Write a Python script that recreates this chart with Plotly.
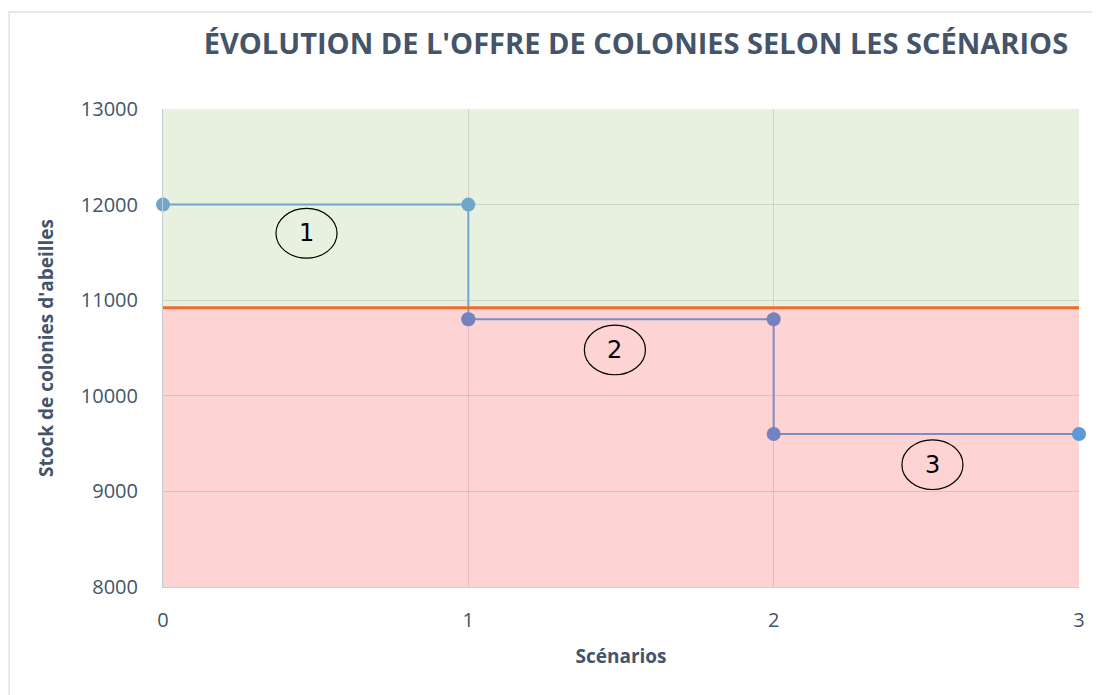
import plotly.graph_objects as go

# scenario steps (two overlapping series as in the original chart)
x_a = [0, 1, 1]
y_a = [12000, 12000, 10800]
x_b = [1, 2, 2, 3]
y_b = [10800, 10800, 9600, 9600]

# threshold separating the green and red zones
seuil = 10920
y_min, y_max = 8000, 13000
x_min, x_max = 0, 3
y_ticks = [8000, 9000, 10000, 11000, 12000, 13000]

# circled scenario labels
label_text = ["1", "2", "3"]
label_x = [0.47, 1.48, 2.52]
label_y = [11700, 10480, 9280]

TXT = "#44546a"
FONT = "Open Sans"

fig = go.Figure()

fig.add_trace(go.Scatter(
    x=x_a, y=y_a, mode="lines+markers",
    line=dict(color="#6fa6cc", width=2),
    marker=dict(color="#6fa6cc", size=14),
    cliponaxis=False, showlegend=False,
))
fig.add_trace(go.Scatter(
    x=x_b, y=y_b, mode="lines+markers",
    line=dict(color="#7f8cc0", width=2),
    marker=dict(color=["#7483bd", "#7483bd", "#7483bd", "#5b9bd5"], size=14),
    cliponaxis=False, showlegend=False,
))

# zones
fig.add_shape(type="rect", xref="x", yref="y", x0=x_min, x1=x_max,
              y0=seuil + 12, y1=y_max, fillcolor="#e8f0e0", line_width=0,
              layer="below")
fig.add_shape(type="rect", xref="x", yref="y", x0=x_min, x1=x_max,
              y0=y_min, y1=seuil - 12, fillcolor="#fdd3d3", line_width=0,
              layer="below")
fig.add_shape(type="line", xref="x", yref="y", x0=x_min, x1=x_max,
              y0=seuil, y1=seuil, line=dict(color="#f26a2c", width=3))

# circled numbers
for t, lx, ly in zip(label_text, label_x, label_y):
    fig.add_shape(type="circle", xref="x", yref="y",
                  x0=lx - 0.1, x1=lx + 0.1, y0=ly - 260, y1=ly + 260,
                  line=dict(color="black", width=1.2))
    fig.add_annotation(x=lx, y=ly, text=t, showarrow=False,
                       font=dict(family="DejaVu Sans", size=24, color="black"))

# outer frame
fig.add_shape(type="rect", xref="paper", yref="paper",
              x0=-0.168, x1=1.04, y0=-0.26, y1=1.203,
              line=dict(color="#dde2ea", width=1.5))

fig.update_layout(
    width=1092, height=687,
    margin=dict(l=155, r=21, t=101, b=108),
    paper_bgcolor="white", plot_bgcolor="white",
    font=dict(family=FONT, color=TXT),
    title=dict(text="<b>ÉVOLUTION DE L'OFFRE DE COLONIES SELON LES SCÉNARIOS</b>",
               x=0.575, xanchor="center", y=0.948, yanchor="middle",
               font=dict(family=FONT, size=29, color=TXT)),
    xaxis=dict(
        range=[x_min, x_max], tickvals=[0, 1, 2, 3],
        showgrid=True, gridcolor="rgba(110,110,110,0.2)", zeroline=False,
        showline=True, linecolor="#e3c9cc", linewidth=1,
        tickfont=dict(size=20, color=TXT), ticks="", ticklabelstandoff=15,
        title=dict(text="<b>Scénarios</b>", font=dict(size=19, color=TXT), standoff=17),
    ),
    yaxis=dict(
        range=[y_min, y_max], tickvals=y_ticks, ticktext=[str(v) for v in y_ticks],
        showgrid=True, gridcolor="rgba(110,110,110,0.2)", zeroline=False,
        showline=True, linecolor="#c3cbd3", linewidth=1,
        tickfont=dict(size=20, color=TXT), ticks="", ticklabelstandoff=20,
        title=dict(text="<b>Stock de colonies d'abeilles</b>", font=dict(size=19, color=TXT), standoff=22),
    ),
)

fig.write_html("out.html")
